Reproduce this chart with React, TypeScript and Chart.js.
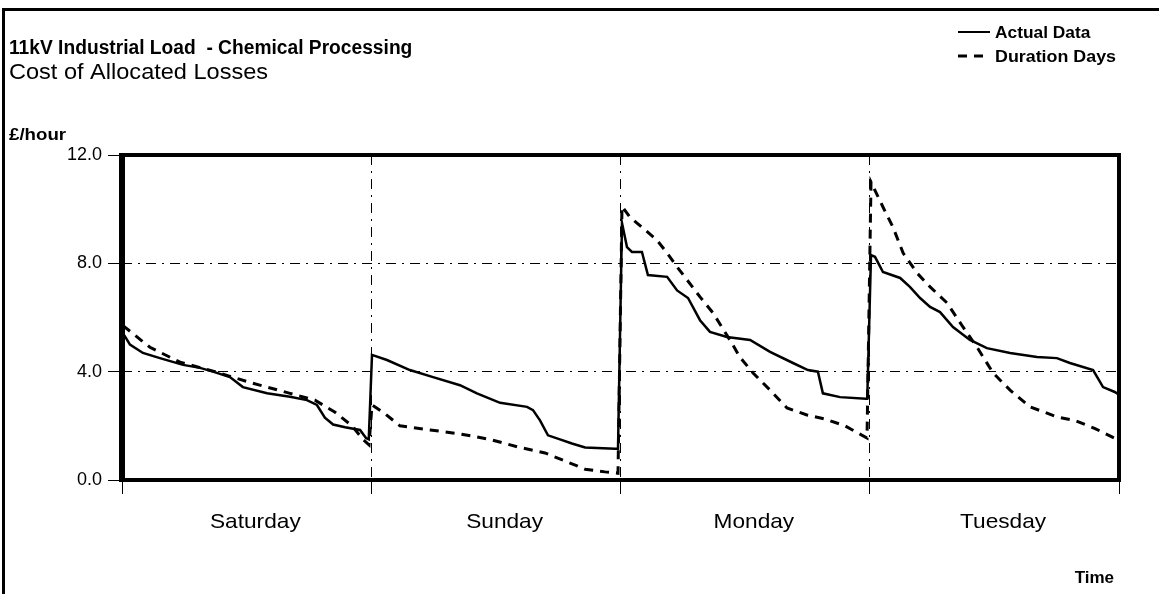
import { useEffect, useRef } from "react";
import { Chart, registerables } from "chart.js";

Chart.register(...registerables);

const titleText = "11kV Industrial Load  - Chemical Processing";
const subtitleText = "Cost of Allocated Losses";
const yAxisTitle = "£/hour";
const xAxisTitle = "Time";
const seriesNames = ["Actual Data", "Duration Days"];
const dayLabels = ["Saturday", "Sunday", "Monday", "Tuesday"];
const dayLabelPositions = [0.535, 1.535, 2.535, 3.535];
const dayBoundaries = [0, 1, 2, 3, 4];
const yTicks = [0, 4, 8, 12];

// x is time in days from Saturday 00:00
const actualTime = [
  0.004, 0.012, 0.032, 0.084, 0.152, 0.245, 0.313, 0.365, 0.433, 0.485, 0.582, 0.674, 0.742, 0.782, 0.814, 0.847,
  0.895, 0.955, 0.979, 0.99, 1.003, 1.063, 1.155, 1.248, 1.356, 1.424, 1.517, 1.625, 1.649, 1.677, 1.709, 1.757,
  1.805, 1.858, 1.978, 1.99, 2.006, 2.026, 2.046, 2.086, 2.11, 2.187, 2.227, 2.271, 2.319, 2.359, 2.427, 2.52,
  2.6, 2.692, 2.752, 2.792, 2.812, 2.881, 2.985, 2.99, 3.005, 3.021, 3.053, 3.122, 3.161, 3.202, 3.242, 3.282,
  3.334, 3.402, 3.47, 3.563, 3.671, 3.751, 3.803, 3.896, 3.936, 3.983, 4.0,
];
const actualValue = [
  5.4, 5.3, 5.0, 4.69, 4.5, 4.25, 4.14, 4.0, 3.8, 3.43, 3.2, 3.07, 2.95, 2.77, 2.3, 2.05,
  1.95, 1.85, 1.55, 1.5, 4.62, 4.43, 4.06, 3.8, 3.5, 3.2, 2.85, 2.7, 2.58, 2.2, 1.65, 1.5,
  1.35, 1.2, 1.15, 1.15, 9.49, 8.6, 8.42, 8.42, 7.57, 7.5, 7.0, 6.72, 5.9, 5.47, 5.28, 5.17,
  4.73, 4.32, 4.06, 4.0, 3.2, 3.06, 3.0, 3.0, 8.3, 8.24, 7.68, 7.46, 7.13, 6.72, 6.39, 6.2,
  5.65, 5.17, 4.87, 4.69, 4.54, 4.5, 4.32, 4.06, 3.43, 3.25, 3.15,
];
const durationTime = [
  0.004, 0.112, 0.233, 0.373, 0.514, 0.674, 0.774, 0.855, 0.923, 0.967, 0.991, 1.003, 1.055, 1.115, 1.236, 1.356,
  1.476, 1.597, 1.697, 1.777, 1.858, 1.938, 1.99, 2.006, 2.038, 2.09, 2.146, 2.187, 2.227, 2.267, 2.319, 2.371,
  2.439, 2.479, 2.532, 2.6, 2.668, 2.748, 2.82, 2.901, 2.989, 3.005, 3.053, 3.093, 3.134, 3.19, 3.242, 3.31,
  3.374, 3.43, 3.495, 3.563, 3.643, 3.751, 3.823, 3.904, 3.992,
];
const durationValue = [
  5.7, 4.9, 4.35, 4.0, 3.6, 3.2, 2.95, 2.5, 2.0, 1.5, 1.3, 2.77, 2.45, 2.0, 1.85, 1.7,
  1.5, 1.2, 1.0, 0.7, 0.4, 0.3, 0.25, 10.1, 9.7, 9.3, 8.86, 8.38, 7.87, 7.39, 6.76, 6.17,
  5.17, 4.54, 3.95, 3.32, 2.66, 2.4, 2.25, 2.0, 1.55, 11.0, 10.08, 9.34, 8.38, 7.64, 7.13, 6.54,
  5.65, 4.91, 3.95, 3.32, 2.7, 2.33, 2.2, 1.9, 1.5,
];

const FONT = "'Liberation Sans', Arial, Helvetica, sans-serif";
const DASH_GRID = [10, 6, 2, 6];
const DASH_SERIES = [9, 7];

function stretchText(ctx: any, text: string, x: number, y: number, sx: number, align: string) {
  ctx.save();
  ctx.translate(x, y);
  ctx.scale(sx, 1);
  ctx.textAlign = align;
  ctx.fillText(text, 0, 0);
  ctx.restore();
}

const decorPlugin = {
  id: "decor",
  beforeDraw(chart: any) {
    const ctx = chart.ctx;
    ctx.save();
    ctx.fillStyle = "#ffffff";
    ctx.fillRect(0, 0, chart.width, chart.height);
    ctx.restore();
  },
  afterDraw(chart: any) {
    const ctx = chart.ctx;
    const a = chart.chartArea;
    ctx.save();
    ctx.strokeStyle = "#000";
    ctx.setLineDash([]);
    // outer frame
    ctx.lineWidth = 3;
    ctx.beginPath();
    ctx.moveTo(3.5, chart.height);
    ctx.lineTo(3.5, 9.5);
    ctx.lineTo(chart.width, 9.5);
    ctx.stroke();
    // plot frame
    ctx.lineWidth = 4;
    ctx.strokeRect(a.left, a.top, a.right - a.left, a.bottom - a.top);
    ctx.lineWidth = 6;
    ctx.beginPath();
    ctx.moveTo(a.left, a.top - 2);
    ctx.lineTo(a.left, a.bottom + 2);
    ctx.stroke();

    // texts
    ctx.fillStyle = "#000";
    ctx.textBaseline = "alphabetic";
    ctx.font = `bold 20px ${FONT}`;
    stretchText(ctx, titleText, 9, 54, 0.96, "left");
    ctx.font = `22px ${FONT}`;
    stretchText(ctx, subtitleText, 9, 79, 1.07, "left");
    ctx.font = `bold 17px ${FONT}`;
    stretchText(ctx, yAxisTitle, 9, 140, 1.1, "left");
    stretchText(ctx, xAxisTitle, 1114, 583, 1.0, "right");

    // day labels along the x axis
    const xs = chart.scales.x;
    ctx.font = `21px ${FONT}`;
    dayLabels.forEach((lbl, i) => {
      const px = xs.getPixelForValue(dayLabelPositions[i]);
      stretchText(ctx, lbl, px, 528, 1.08, "center");
    });

    // legend
    ctx.font = `bold 17px ${FONT}`;
    ctx.lineWidth = 2;
    ctx.beginPath();
    ctx.moveTo(958, 32);
    ctx.lineTo(990, 32);
    ctx.stroke();
    stretchText(ctx, seriesNames[0], 995, 38, 1.02, "left");
    ctx.lineWidth = 3;
    ctx.setLineDash(DASH_SERIES);
    ctx.beginPath();
    ctx.moveTo(958, 56);
    ctx.lineTo(990, 56);
    ctx.stroke();
    ctx.setLineDash([]);
    stretchText(ctx, seriesNames[1], 995, 62, 1.05, "left");
    ctx.restore();
  },
};

export default function App() {
  const canvasRef = useRef<HTMLCanvasElement | null>(null);

  useEffect(() => {
    const canvas = canvasRef.current;
    if (!canvas) return;
    const chart = new Chart(canvas, {
      type: "line",
      data: {
        datasets: [
          {
            label: seriesNames[0],
            data: actualTime.map((t, i) => ({ x: t, y: actualValue[i] })),
            borderColor: "#000",
            borderWidth: 2.5,
            pointRadius: 0,
            tension: 0,
            fill: false,
          },
          {
            label: seriesNames[1],
            data: durationTime.map((t, i) => ({ x: t, y: durationValue[i] })),
            borderColor: "#000",
            borderWidth: 3,
            borderDash: DASH_SERIES,
            pointRadius: 0,
            tension: 0,
            fill: false,
          },
        ],
      },
      options: {
        animation: false,
        responsive: false,
        devicePixelRatio: 1,
        layout: { padding: { left: 0, right: 40, top: 155, bottom: 0 } },
        plugins: {
          legend: { display: false },
          tooltip: { enabled: false },
          title: { display: false },
        },
        scales: {
          x: {
            type: "linear",
            min: 0,
            max: 4,
            afterBuildTicks: (scale: any) => {
              scale.ticks = dayBoundaries.map((v) => ({ value: v }));
            },
            afterFit: (scale: any) => {
              scale.height = 114;
            },
            ticks: {
              display: false,
              autoSkip: false,
              maxRotation: 0,
            },
            grid: {
              drawOnChartArea: true,
              tickLength: 14,
              lineWidth: 1,
              color: (c: any) => {
                const v = c.tick ? c.tick.value : -1;
                return v === 1 || v === 2 || v === 3 ? "#000" : "rgba(0,0,0,0)";
              },
              tickColor: "#000",
              tickBorderDash: [],
            },
            border: { display: false, dash: DASH_GRID },
          },
          y: {
            type: "linear",
            min: 0,
            max: 12,
            afterBuildTicks: (scale: any) => {
              scale.ticks = yTicks.map((v) => ({ value: v }));
            },
            afterFit: (scale: any) => {
              scale.width = 122;
            },
            ticks: {
              padding: 6,
              color: "#000",
              font: { family: FONT, size: 18 },
              callback: (value: any) => Number(value).toFixed(1),
            },
            grid: {
              drawOnChartArea: true,
              tickLength: 14,
              lineWidth: 1,
              color: (c: any) => {
                const v = c.tick ? c.tick.value : -1;
                return v === 4 || v === 8 ? "#000" : "rgba(0,0,0,0)";
              },
              tickColor: "#000",
              tickBorderDash: [],
            },
            border: { display: false, dash: DASH_GRID },
          },
        },
      },
      plugins: [decorPlugin],
    });
    return () => chart.destroy();
  }, []);

  return (
    <canvas
      ref={canvasRef}
      width={1159}
      height={594}
      style={{ position: "absolute", left: 0, top: 0, display: "block", width: 1159, height: 594 }}
    />
  );
}
